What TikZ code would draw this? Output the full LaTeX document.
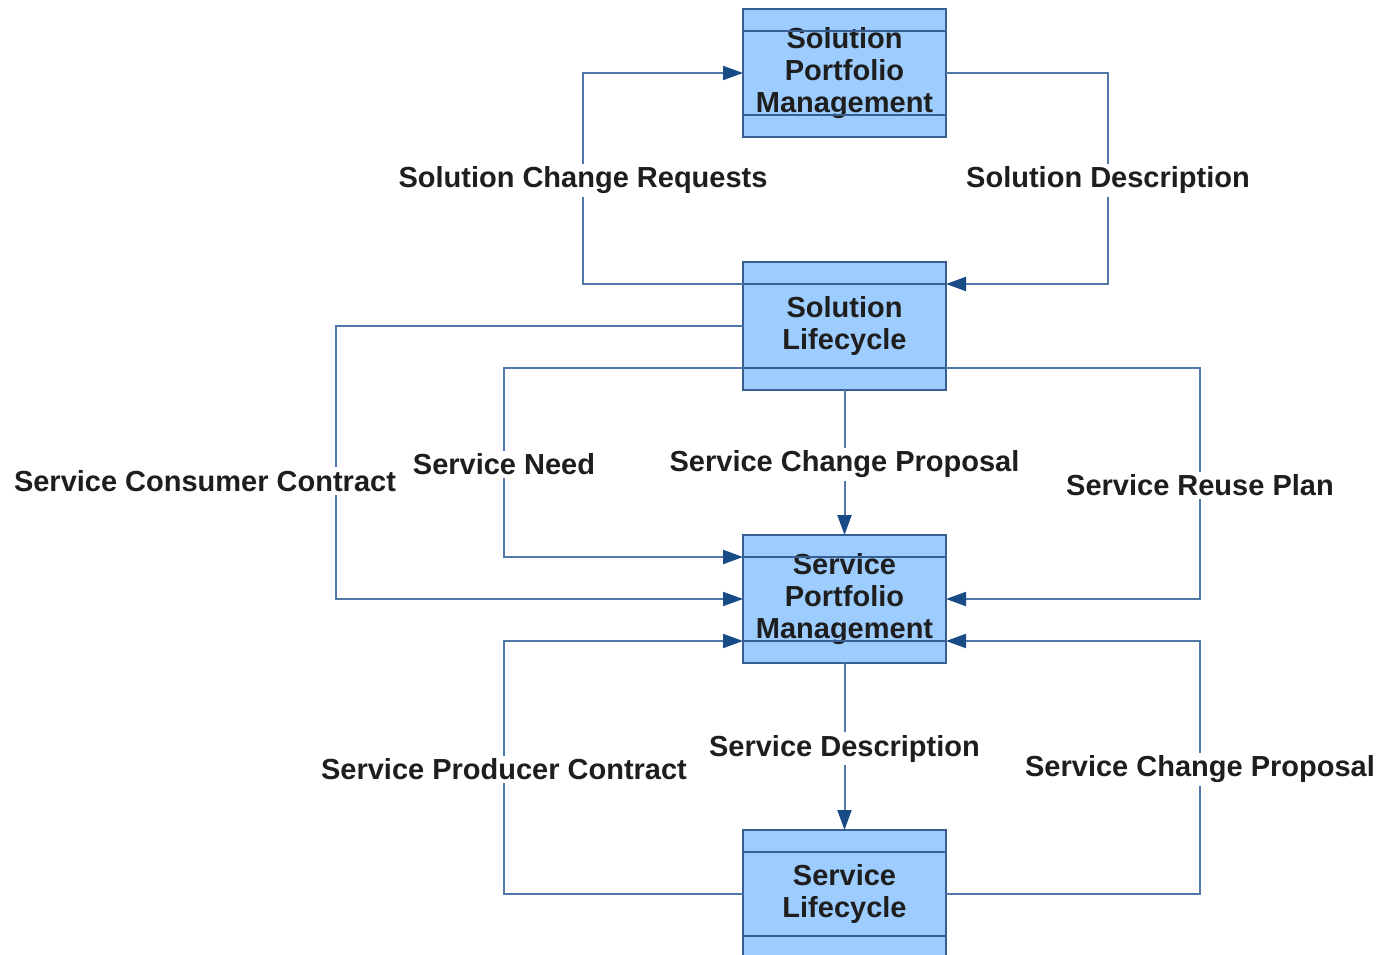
\documentclass[tikz,border=0pt]{standalone}
\usepackage{fontspec}
\setmainfont{Liberation Sans}
\usetikzlibrary{arrows.meta,positioning}
\definecolor{boxfill}{RGB}{157,204,255}
\definecolor{boxline}{RGB}{55,95,145}
\definecolor{flowline}{RGB}{80,120,170}
\definecolor{tipblue}{RGB}{25,75,135}
\definecolor{labeltext}{RGB}{30,30,30}

\begin{document}
\begin{tikzpicture}[
    x=1pt, y=-1pt,
    box/.style={draw=boxline, fill=boxfill, line width=2pt, minimum width=203pt, minimum height=128pt, inner sep=0pt, outer sep=0pt, align=center, text=labeltext, font=\fontsize{29}{32}\selectfont\bfseries},
    band/.style={draw=boxline, line width=2pt},
    flow/.style={draw=flowline, line width=2pt, -{Triangle[length=20pt, width=14pt, color=tipblue]}},
    lbl/.style={fill=white, inner sep=3pt, yshift=-2pt, text=labeltext, font=\fontsize{29}{32}\selectfont\bfseries}
]
    % Page
    \clip (0,0) rectangle (1377,955);

    % Boxes
    \node[box] (solpm) at (844.5,73) {Solution\\Portfolio\\Management};
    \node[box] (sollc) at (844.5,326) {Solution\\Lifecycle};
    \node[box] (svcpm) at (844.5,599) {Service\\Portfolio\\Management};
    \node[box] (svclc) at (844.5,894) {Service\\Lifecycle};

    % Bands
    \foreach \b in {solpm, sollc, svcpm, svclc} {
        \draw[band] ([yshift=-22pt]\b.north west) -- ([yshift=-22pt]\b.north east);
        \draw[band] ([yshift=22pt]\b.south west) -- ([yshift=22pt]\b.south east);
    }

    % Solution level
    \draw[flow] ([yshift=42pt]sollc.west) -- ++(-160,0)
        |- node[lbl, pos=0.25] (scr) {Solution Change Requests} (solpm.west);
    \draw[flow] (solpm.east) -- ++(162,0)
        |- node[lbl, pos=0.25] (sdesc) {Solution Description} ([yshift=42pt]sollc.east);

    % Into service portfolio
    \draw[flow] (sollc.west) -- ++(-407,0)
        |- node[lbl, pos=0.28, xshift=-131pt] (scc) {Service Consumer Contract} (svcpm.west);
    \draw[flow] ([yshift=-42pt]sollc.west) -- ++(-239,0)
        |- node[lbl, pos=0.25] (sneed) {Service Need} ([yshift=42pt]svcpm.west);
    \draw[flow] (sollc.south) -- node[lbl] (scp) {Service Change Proposal} (svcpm.north);
    \draw[flow] ([yshift=-42pt]sollc.east) -- ++(254,0)
        |- node[lbl, pos=0.25] (srp) {Service Reuse Plan} (svcpm.east);

    % Service level
    \draw[flow] (svclc.west) -- ++(-239,0)
        |- node[lbl, pos=0.25] (spc) {Service Producer Contract} ([yshift=-42pt]svcpm.west);
    \draw[flow] (svcpm.south) -- node[lbl] (svdesc) {Service Description} (svclc.north);
    \draw[flow] (svclc.east) -- ++(254,0)
        |- node[lbl, pos=0.25] (scp2) {Service Change Proposal} ([yshift=-42pt]svcpm.east);
\end{tikzpicture}
\end{document}
